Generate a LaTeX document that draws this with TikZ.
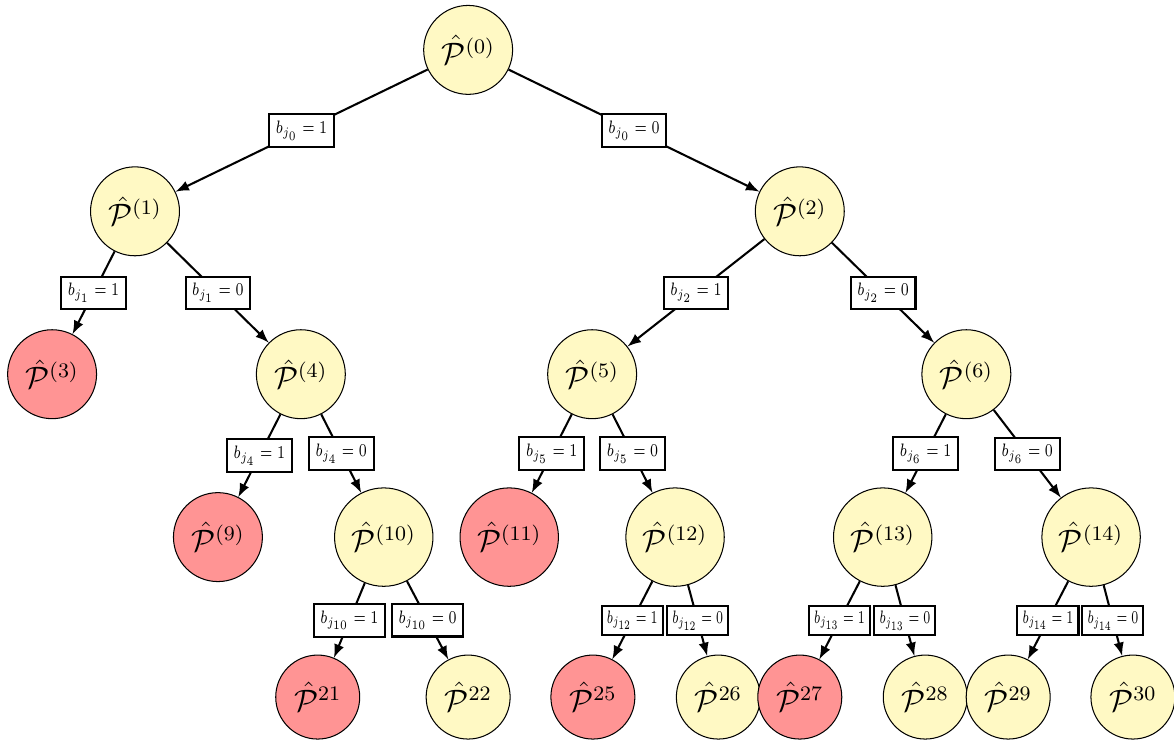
\documentclass[tikz,border=0pt]{standalone}
\usepackage{amsmath, amssymb}
\usepackage{graphicx}
\usepackage{tikz}

\definecolor{okfill}{RGB}{255,249,196}
\definecolor{badfill}{RGB}{255,148,148}

% branch condition text, squeezed sideways
\newcommand{\bcond}[3][0.78]{\scalebox{#1}[1]{$b_{#2} = #3$}}

\begin{document}
\begin{tikzpicture}[
    pnode/.style={circle, draw, thin, font=\large, inner sep=4pt},
    ok/.style={pnode, fill=okfill},
    bad/.style={pnode, fill=badfill},
    edge/.style={-latex, thick},
    cond/.style={draw, thick, fill=white, font=\scriptsize, inner sep=2.6pt}
]

\useasboundingbox (0, 0) rectangle (16, -10.11);

%Nodes
\node[ok] (n0) at (6.38, -0.68) {$\hat{\mathcal{P}}^{(0)}$};

\node[ok] (n1) at (1.84, -2.88) {$\hat{\mathcal{P}}^{(1)}$};
\node[ok] (n2) at (10.90, -2.88) {$\hat{\mathcal{P}}^{(2)}$};

\node[bad] (n3) at (0.71, -5.10) {$\hat{\mathcal{P}}^{(3)}$};
\node[ok] (n4) at (4.10, -5.10) {$\hat{\mathcal{P}}^{(4)}$};
\node[ok] (n5) at (8.07, -5.10) {$\hat{\mathcal{P}}^{(5)}$};
\node[ok] (n6) at (13.17, -5.10) {$\hat{\mathcal{P}}^{(6)}$};

\node[bad] (n9) at (2.97, -7.32) {$\hat{\mathcal{P}}^{(9)}$};
\node[ok] (n10) at (5.23, -7.32) {$\hat{\mathcal{P}}^{(10)}$};
\node[bad] (n11) at (6.94, -7.32) {$\hat{\mathcal{P}}^{(11)}$};
\node[ok] (n12) at (9.20, -7.32) {$\hat{\mathcal{P}}^{(12)}$};
\node[ok] (n13) at (12.03, -7.32) {$\hat{\mathcal{P}}^{(13)}$};
\node[ok] (n14) at (14.87, -7.32) {$\hat{\mathcal{P}}^{(14)}$};

\node[bad] (n21) at (4.33, -9.50) {$\hat{\mathcal{P}}^{21}$};
\node[ok] (n22) at (6.38, -9.50) {$\hat{\mathcal{P}}^{22}$};
\node[bad] (n25) at (8.08, -9.50) {$\hat{\mathcal{P}}^{25}$};
\node[ok] (n26) at (9.79, -9.50) {$\hat{\mathcal{P}}^{26}$};
\node[bad] (n27) at (10.90, -9.50) {$\hat{\mathcal{P}}^{27}$};
\node[ok] (n28) at (12.61, -9.50) {$\hat{\mathcal{P}}^{28}$};
\node[ok] (n29) at (13.74, -9.50) {$\hat{\mathcal{P}}^{29}$};
\node[ok] (n30) at (15.44, -9.50) {$\hat{\mathcal{P}}^{30}$};

%Branches
\draw[edge] (n0) -- node[cond] {\bcond{j_0}{1}} (n1);
\draw[edge] (n0) -- node[cond] {\bcond{j_0}{0}} (n2);

\draw[edge] (n1) -- node[cond] {\bcond{j_1}{1}} (n3);
\draw[edge] (n1) -- node[cond] {\bcond{j_1}{0}} (n4);
\draw[edge] (n2) -- node[cond] {\bcond{j_2}{1}} (n5);
\draw[edge] (n2) -- node[cond] {\bcond{j_2}{0}} (n6);

\draw[edge] (n4) -- node[cond] {\bcond{j_4}{1}} (n9);
\draw[edge] (n4) -- node[cond] {\bcond{j_4}{0}} (n10);
\draw[edge] (n5) -- node[cond] {\bcond{j_5}{1}} (n11);
\draw[edge] (n5) -- node[cond] {\bcond{j_5}{0}} (n12);
\draw[edge] (n6) -- node[cond] {\bcond{j_6}{1}} (n13);
\draw[edge] (n6) -- node[cond] {\bcond{j_6}{0}} (n14);

\draw[edge] (n10) -- node[cond] {\bcond{j_{10}}{1}} (n21);
\draw[edge] (n10) -- node[cond] {\bcond{j_{10}}{0}} (n22);
\draw[edge] (n12) -- node[cond, inner sep=2pt] {\bcond[0.68]{j_{12}}{1}} (n25);
\draw[edge] (n12) -- node[cond, inner sep=2pt] {\bcond[0.68]{j_{12}}{0}} (n26);
\draw[edge] (n13) -- node[cond, inner sep=2pt] {\bcond[0.68]{j_{13}}{1}} (n27);
\draw[edge] (n13) -- node[cond, inner sep=2pt] {\bcond[0.68]{j_{13}}{0}} (n28);
\draw[edge] (n14) -- node[cond, inner sep=2pt] {\bcond[0.68]{j_{14}}{1}} (n29);
\draw[edge] (n14) -- node[cond, inner sep=2pt] {\bcond[0.68]{j_{14}}{0}} (n30);

\end{tikzpicture}
\end{document}
